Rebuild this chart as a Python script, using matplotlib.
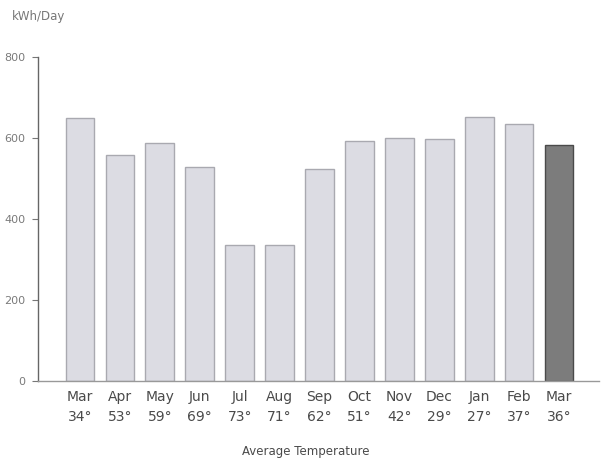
import matplotlib
matplotlib.use('Agg')
from matplotlib import pyplot as plt
import numpy as np

# monthly energy use with the average temperature for each month
months = ['Mar', 'Apr', 'May', 'Jun', 'Jul', 'Aug', 'Sep',
          'Oct', 'Nov', 'Dec', 'Jan', 'Feb', 'Mar']
temps = [34, 53, 59, 69, 73, 71, 62, 51, 42, 29, 27, 37, 36]
kwh = [648, 558, 588, 528, 336, 336, 523, 593, 600, 598, 652, 635, 583]
y_ticks = [0, 200, 400, 600, 800]

plt.rcParams['font.family'] = ['DejaVu Sans']

text_color = '#4a4a4a'
fig = plt.figure(figsize=(6.05, 4.66), dpi=100)
ax = fig.add_axes([0.063, 0.182, 0.927, 0.696])

x = np.arange(len(months))
colors = ['#dcdce3'] * (len(months) - 1) + ['#7c7c7c']
edges = ['#a9a9b0'] * (len(months) - 1) + ['#4a4a4a']
ax.bar(x, kwh, width=0.72, color=colors, edgecolor=edges, linewidth=1.0)

ax.set_xlim(-1.05, len(months) - 0.0)
ax.set_ylim(0, 800)
ax.set_yticks(y_ticks)
ax.set_yticklabels([str(v) for v in y_ticks], color='#7a7a7a', fontsize=8)
ax.set_xticks(x)
ax.set_xticklabels([f'{m}\n{t}°' for m, t in zip(months, temps)],
                   color=text_color, fontsize=10, linespacing=1.55)
ax.tick_params(axis='x', length=0, pad=6)
ax.tick_params(axis='y', direction='out', length=4, color='#777777', pad=5)

for side in ['top', 'right']:
    ax.spines[side].set_visible(False)
ax.spines['left'].set_color('#666666')
ax.spines['bottom'].set_color('#999999')
ax.spines['left'].set_linewidth(1.0)
ax.spines['bottom'].set_linewidth(1.0)

fig.text(0.505, 0.032, 'Average Temperature', ha='center', va='center',
         color=text_color, fontsize=8.5)
fig.text(0.02, 0.965, 'kWh/Day', ha='left', va='center',
         color='#777777', fontsize=8.5)

fig.savefig('out.png', dpi=100)
